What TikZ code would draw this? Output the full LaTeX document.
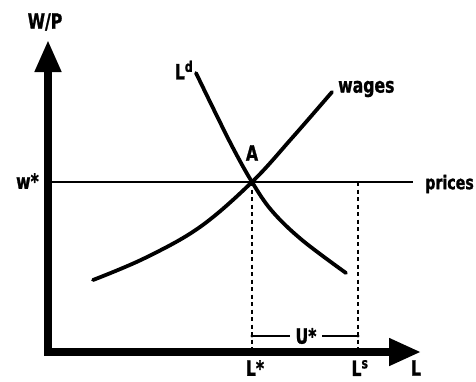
\documentclass[tikz,border=0pt]{standalone}
\usepackage{fontspec}
\setmainfont{DejaVu Sans Condensed}[BoldFont={DejaVu Sans Condensed Bold}, FakeStretch=0.83, BoldFeatures={FakeBold=1.2}]
\usetikzlibrary{arrows.meta}
\begin{document}
\begin{tikzpicture}[x=1pt,y=-1pt,
  lbl/.style={font=\fontsize{21}{23}\selectfont\bfseries, inner sep=0pt},
  axis/.style={line width=7.5pt, line join=miter},
  curve/.style={line width=3.8pt},
  guide/.style={line width=1.8pt, dash pattern=on 4pt off 3.5pt}]
\useasboundingbox (0,0) rectangle (476,381);
% key points
\coordinate (O) at (48,352);
\coordinate (ytip) at (48,40);
\coordinate (xtip) at (421,352);
\coordinate (A) at (252,182);
\coordinate (Lstar) at (252,352);
\coordinate (Ls) at (358,352);
\coordinate (pl) at (52,182);
\coordinate (pr) at (413,182);
\coordinate (LsTop) at (358,182);
\coordinate (U1) at (252,336);
\coordinate (U2) at (290,336);
\coordinate (U3) at (322,336);
\coordinate (U4) at (358,336);
% prices line
\draw[line width=1.4pt] (pl) -- (pr);
% dashed guides
\draw[guide] (A) -- (Lstar);
\draw[guide] (LsTop) -- (Ls);
% curves
\draw[curve, line cap=round] plot[smooth, tension=0.6] coordinates
  {(196,73) (214,110) (233,148) (A) (272,211) (302,240) (346,273)};
\draw[curve, line cap=round] plot[smooth, tension=0.6] coordinates
  {(93,280) (145,258) (200,227) (A) (292,138) (332,92)};
% axes
\draw[axis, {Triangle[length=32pt,width=25pt]}-{Triangle[length=32pt,width=26pt]}]
  (ytip) -- (O) -- (xtip);
% U* bracket
\draw[line width=1.6pt] (U1) -- (U2);
\draw[line width=1.6pt] (U3) -- (U4);
\fill (U1) circle (1.6pt);
\fill (U4) circle (1.6pt);
% labels
\node[lbl] (tWP) at (45,22) {W/P};
\node[lbl, anchor=east] (tw) at (39,181) {w*};
\node[lbl] (tLd) at (184,70) {L\textsuperscript{d}};
\node[lbl, anchor=west] (twages) at (338,89) {wages};
\node[lbl] (tA) at (252,153) {A};
\node[lbl, anchor=east, font=\fontsize{19}{21}\selectfont\bfseries] (tprices) at (474,184) {prices};
\node[lbl] (tU) at (306,336) {U*};
\node[lbl] (tLstar) at (255,368) {L*};
\node[lbl] (tLs) at (360,368) {L\textsuperscript{s}};
\node[lbl] (tL) at (416,368) {L};
\end{tikzpicture}
\end{document}
